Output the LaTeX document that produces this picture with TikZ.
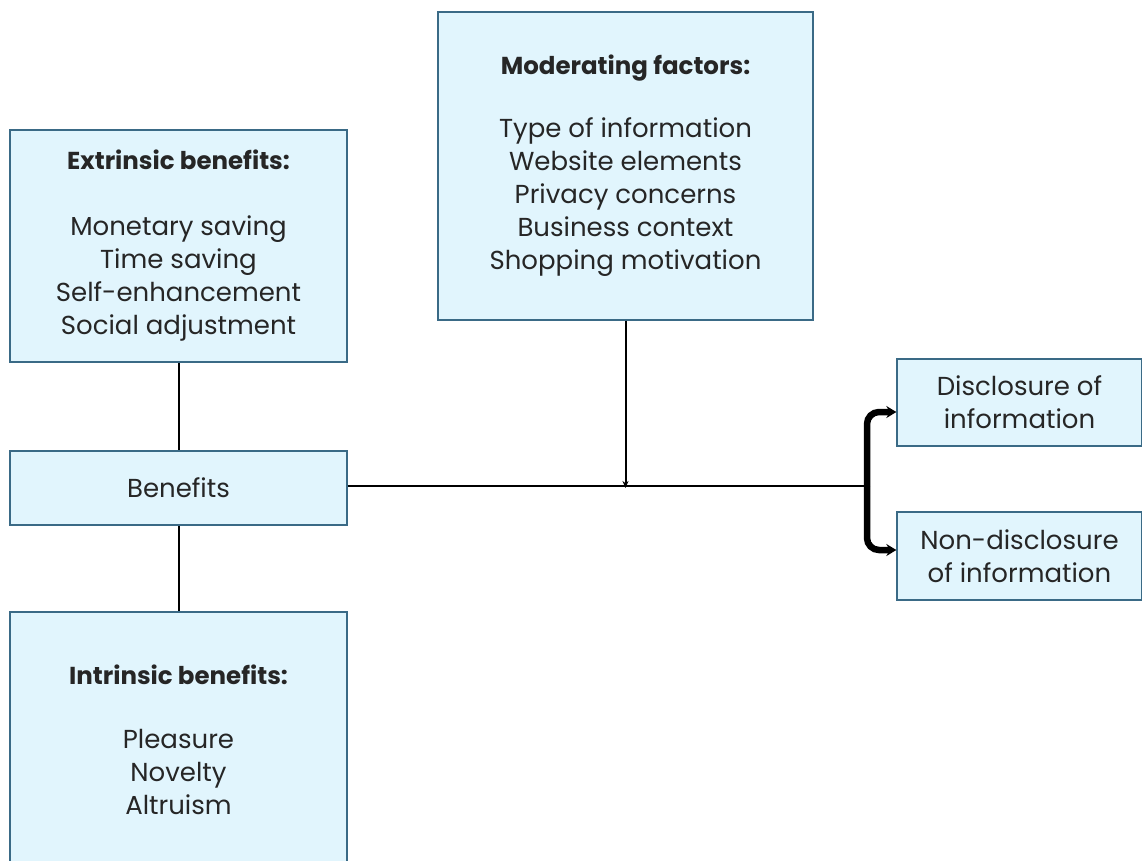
\documentclass[tikz,border=0pt]{standalone}
\usepackage{fontspec}
\setmainfont{Poppins}
\usepackage{tikz}
\usetikzlibrary{positioning,arrows.meta}

\definecolor{boxfill}{HTML}{E1F5FD}
\definecolor{boxline}{HTML}{3A6A86}
\definecolor{textgray}{HTML}{262626}

\tikzset{
    factorbox/.style={draw=boxline, line width=1.3pt, fill=boxfill, align=center,
        text=textgray, font=\fontsize{26}{33}\selectfont, inner sep=0pt},
    link/.style={line width=2pt},
    branch/.style={line width=6.5pt, rounded corners=12pt, -{Stealth[length=10pt,width=12pt]}}
}
\newcommand{\headline}[1]{{\bfseries\fontsize{24.5}{33}\selectfont #1}}

\begin{document}
\begin{tikzpicture}[x=1pt, y=-1pt]
        \useasboundingbox (0,0) rectangle (1142,860);
        \clip (0,0) rectangle (1142,860);

        % Box sinistri (benefici)
        \node[factorbox, minimum width=337pt, minimum height=232pt] (extrinsic) at (178.5, 246) {
            \headline{Extrinsic benefits:} \\[33pt]
            Monetary saving \\
            Time saving \\
            Self-enhancement \\
            Social adjustment
        };
        \node[factorbox, minimum width=337pt, minimum height=74pt] (benefits) at (178.5, 488) {Benefits};
        \node[factorbox, minimum width=337pt, minimum height=256pt] (intrinsic) at (178.5, 740) {
            \headline{Intrinsic benefits:} \\[31pt]
            Pleasure \\
            Novelty \\
            Altruism
        };

        % Box centrale (moderatori)
        \node[factorbox, minimum width=375pt, minimum height=308pt] (moderating) at (625.5, 166) {
            \headline{Moderating factors:} \\[30pt]
            Type of information \\
            Website elements \\
            Privacy concerns \\
            Business context \\
            Shopping motivation
        };

        % Box destri (esiti)
        \node[factorbox, minimum width=245pt, minimum height=87pt] (disclosure) at (1019.5, 402.5) {
            Disclosure of \\ information
        };
        \node[factorbox, minimum width=245pt, minimum height=88pt] (nondisclosure) at (1019.5, 556) {
            Non-disclosure \\ of information
        };

        \coordinate (join) at (moderating.south |- benefits.east);
        \coordinate (split) at (867, 486);

        % Linee
        \draw[link] (extrinsic.south) -- (benefits.north);
        \draw[link] (benefits.south) -- (intrinsic.north);
        \draw[link] (benefits.east |- split) -- (split);
        \draw[link, -{Stealth[length=7pt,width=6pt]}] (moderating.south) -- (join);

        % Frecce
        \draw[branch] (split) |- ([yshift=-9.5pt]disclosure.west);
        \draw[branch] (split) |- ([yshift=6pt]nondisclosure.west);
    \end{tikzpicture}
\end{document}
